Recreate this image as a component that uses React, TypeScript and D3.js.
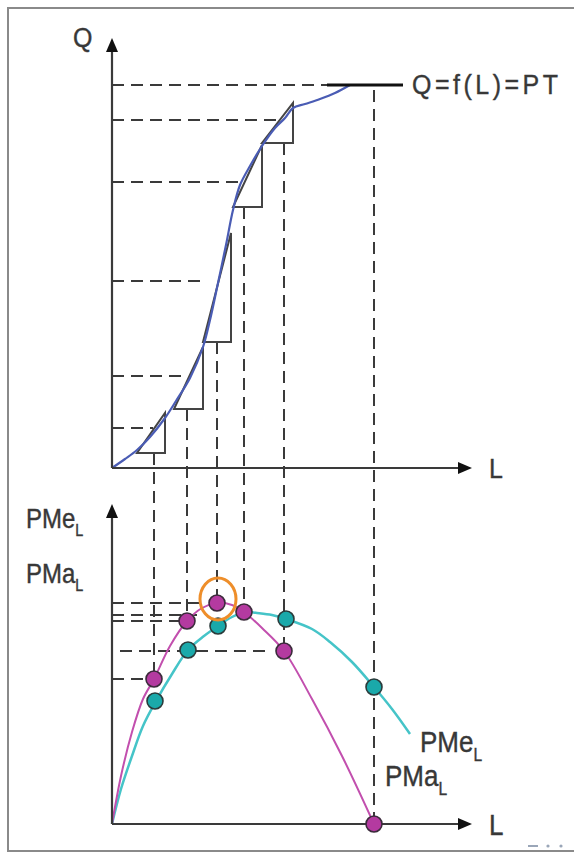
import * as d3 from "d3";

const W = 574;
const H = 853;

// guide positions on the L axis, shared by both panels
const guideL = [42, 75, 105, 132, 172, 262];
const guideTopQ = [15, 59, 126, 261, 325, 378];
const guideBottomV = [145, 203, 221, 212, 173, 0];

// total product curve (L, Q)
const ptCurve: [number, number][] = [
  [0, 0], [13, 9], [25, 18], [38, 31], [53, 50], [64, 67], [78, 90], [91, 121],
  [98, 148], [106, 185], [114, 223], [121, 258], [128, 283], [138, 302], [150, 322],
  [163, 340], [173, 350], [181, 360], [193, 364], [208, 369], [223, 375], [238, 383],
];
const plateauL = [215, 291];
const plateauQ = 383;

// horizontal guides on the Q axis
const qLevels = [383, 348, 286, 187, 92, 40];
const qLevelEnds = [215, 170, 130, 92, 72, 41];

// slope triangles
const triL0 = [25, 62, 91, 121, 150];
const triL1 = [53, 91, 119, 150, 181];
const triQ0 = [15, 59, 126, 261, 325];
const triQ1 = [55, 121, 235, 323, 365];

// marginal and average product
const pmaCurve: [number, number][] = [
  [0, 0], [9, 48], [20, 92], [31, 125], [42, 145], [58, 178], [75, 203], [90, 216],
  [105, 221], [120, 219], [132, 212], [150, 196], [172, 173], [200, 125], [230, 68], [262, 0],
];
const pmeCurve: [number, number][] = [
  [0, 0], [9, 35], [20, 68], [31, 98], [44, 123], [60, 150], [76, 174], [92, 188],
  [106, 198], [120, 207], [133, 212], [145, 211], [160, 209], [174, 205], [200, 195],
  [218, 182], [240, 162], [262, 137], [280, 115], [298, 90],
];
const pmaDots: [number, number][] = [[42, 145], [75, 203], [105, 221], [172, 173], [262, 0], [132, 212]];
const pmeDots: [number, number][] = [[43, 123], [76, 174], [106, 198], [174, 205], [262, 137]];

const pLevels = [221, 209, 203, 173, 145];
const pLevelStart = [0, 0, 0, 8, 0];
const pLevelEnd = [93, 85, 68, 160, 35];

const maxPoint: [number, number] = [106, 225];

const DASH = "12,7";
const INK = "#3a3a3a";
const MAGENTA = "#c24fae";
const TEAL = "#45c4c8";

const x = d3.scaleLinear().domain([0, 360]).range([112, 472]);
const yTop = d3.scaleLinear().domain([0, 430]).range([468, 38]);
const yBot = d3.scaleLinear().domain([0, 320]).range([824, 504]);

function Label({ x, y, text, sub, size = 24, spacing = 0 }: { x: number; y: number; text: string; sub?: string; size?: number; spacing?: number }) {
  return (
    <text
      transform={`translate(${x},${y}) scale(1,1.12)`}
      fontFamily="Liberation Sans, Arial, sans-serif"
      fontSize={size}
      fill="#383838"
      stroke="#383838"
      strokeWidth={0.35}
      letterSpacing={spacing}
    >
      {text}
      {sub && (
        <tspan fontSize={size * 0.6} dy={size * 0.3}>
          {sub}
        </tspan>
      )}
    </text>
  );
}

function Arrow({ x1, y1, x2, y2 }: { x1: number; y1: number; x2: number; y2: number }) {
  const a = Math.atan2(y2 - y1, x2 - x1);
  const len = 14;
  const hw = 6;
  const bx = x2 - len * Math.cos(a);
  const by = y2 - len * Math.sin(a);
  const px = -Math.sin(a) * hw;
  const py = Math.cos(a) * hw;
  return (
    <g>
      <line x1={x1} y1={y1} x2={bx} y2={by} stroke={INK} strokeWidth={2.2} />
      <path d={`M${x2},${y2}L${bx + px},${by + py}L${bx - px},${by - py}Z`} fill="#111" />
    </g>
  );
}

export default function App() {
  const topLine = d3
    .line<[number, number]>()
    .x((d) => x(d[0]))
    .y((d) => yTop(d[1]))
    .curve(d3.curveCatmullRom.alpha(0.5));
  const botLine = d3
    .line<[number, number]>()
    .x((d) => x(d[0]))
    .y((d) => yBot(d[1]))
    .curve(d3.curveCatmullRom.alpha(0.5));

  return (
    <svg
      width={W}
      height={H}
      viewBox={`0 0 ${W} ${H}`}
      style={{ position: "absolute", left: 0, top: 0, display: "block", background: "#fff" }}
    >
      {/* frame */}
      <path d={`M${W},8H8V851H${W}`} fill="none" stroke="#8a8a8a" strokeWidth={2} />

      {/* vertical guides through both panels */}
      {guideL.map((l, i) => (
        <line
          key={`v${i}`}
          x1={x(l)}
          x2={x(l)}
          y1={yTop(guideTopQ[i])}
          y2={yBot(guideBottomV[i])}
          stroke={INK}
          strokeWidth={2}
          strokeDasharray={DASH}
        />
      ))}

      {/* top panel */}
      {qLevels.map((q, i) => (
        <line
          key={`h${i}`}
          x1={x(0)}
          x2={x(qLevelEnds[i])}
          y1={yTop(q)}
          y2={yTop(q)}
          stroke={INK}
          strokeWidth={2}
          strokeDasharray={DASH}
        />
      ))}
      {triL0.map((l, i) => (
        <path
          key={`t${i}`}
          d={`M${x(l)},${yTop(triQ0[i])}H${x(triL1[i])}V${yTop(triQ1[i])}Z`}
          fill="none"
          stroke="#444"
          strokeWidth={2}
        />
      ))}
      <path d={topLine(ptCurve) ?? ""} fill="none" stroke="#4a5cb4" strokeWidth={2.2} />
      <line
        x1={x(plateauL[0])}
        x2={x(plateauL[1])}
        y1={yTop(plateauQ)}
        y2={yTop(plateauQ)}
        stroke="#111"
        strokeWidth={3}
      />
      <Arrow x1={x(0)} y1={yTop(0)} x2={x(0)} y2={yTop(430)} />
      <Arrow x1={x(0)} y1={yTop(0)} x2={x(360)} y2={yTop(0)} />
      <Label x={73} y={47} text="Q" size={25} />
      <Label x={489} y={478} text="L" size={25} />
      <Label x={412} y={94} text="Q=f(L)=PT" size={25} spacing={3.5} />

      {/* bottom panel */}
      {pLevels.map((v, i) => (
        <line
          key={`p${i}`}
          x1={x(pLevelStart[i])}
          x2={x(pLevelEnd[i])}
          y1={yBot(v)}
          y2={yBot(v)}
          stroke={INK}
          strokeWidth={2}
          strokeDasharray={DASH}
        />
      ))}
      <path d={botLine(pmeCurve) ?? ""} fill="none" stroke={TEAL} strokeWidth={2.5} />
      <path d={botLine(pmaCurve) ?? ""} fill="none" stroke={MAGENTA} strokeWidth={2} />
      <Arrow x1={x(0)} y1={yBot(0)} x2={x(0)} y2={yBot(320)} />
      <Arrow x1={x(0)} y1={yBot(0)} x2={x(360)} y2={yBot(0)} />
      {pmeDots.map((d, i) => (
        <circle key={`e${i}`} cx={x(d[0])} cy={yBot(d[1])} r={8} fill="#1aa9aa" stroke="#2b3b3b" strokeWidth={1.6} />
      ))}
      {pmaDots.map((d, i) => (
        <circle key={`a${i}`} cx={x(d[0])} cy={yBot(d[1])} r={8} fill="#b43aa0" stroke="#3b2b3b" strokeWidth={1.6} />
      ))}
      <ellipse cx={x(maxPoint[0])} cy={yBot(maxPoint[1])} rx={18} ry={21} fill="none" stroke="#ee8e2a" strokeWidth={3} />

      <Label x={26} y={528} text="PMe" sub="L" size={24} />
      <Label x={26} y={583} text="PMa" sub="L" size={24} />
      <Label x={420} y={752} text="PMe" sub="L" size={26} />
      <Label x={385} y={786} text="PMa" sub="L" size={26} />
      <Label x={489} y={835} text="L" size={26} />

      {/* slide control mark */}
      <g fill="#9aa6b8">
        <rect x={528} y={845} width={10} height={2} />
        <circle cx={548} cy={846} r={1.6} />
        <circle cx={561} cy={846} r={1.6} />
      </g>
    </svg>
  );
}
